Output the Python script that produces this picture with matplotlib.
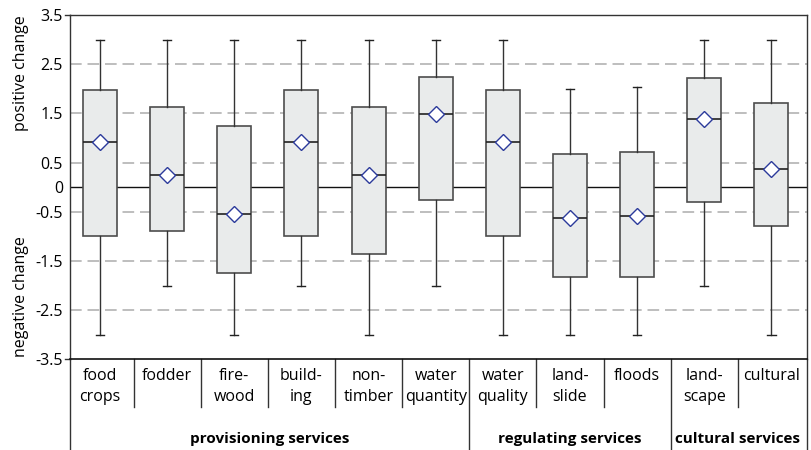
import matplotlib
matplotlib.use("Agg")
import matplotlib.pyplot as plt
from matplotlib.transforms import blended_transform_factory
from matplotlib.lines import Line2D

# ---- data ----
categories = ["food\ncrops", "fodder", "fire-\nwood", "build-\ning", "non-\ntimber",
              "water\nquantity", "water\nquality", "land-\nslide", "floods",
              "land-\nscape", "cultural"]
whisker_low = [-3.0, -2.0, -3.0, -2.0, -3.0, -2.0, -3.0, -3.0, -3.0, -2.0, -3.0]
q1 = [-1.0, -0.89, -1.75, -1.0, -1.36, -0.26, -1.0, -1.83, -1.83, -0.31, -0.80]
median = [0.92, 0.25, -0.55, 0.92, 0.25, 1.49, 0.92, -0.63, -0.58, 1.38, 0.36]
mean = [0.92, 0.25, -0.55, 0.92, 0.25, 1.49, 0.92, -0.63, -0.58, 1.38, 0.36]
q3 = [1.98, 1.62, 1.24, 1.98, 1.62, 2.24, 1.98, 0.67, 0.72, 2.22, 1.71]
whisker_high = [3.0, 3.0, 3.0, 3.0, 3.0, 3.0, 3.0, 2.0, 2.04, 3.0, 3.0]
groups = ["provisioning services", "regulating services", "cultural services"]
group_sizes = [6, 3, 2]
yticks = [-3.5, -2.5, -1.5, -0.5, 0, 0.5, 1.5, 2.5, 3.5]
ytick_labels = ["-3.5", "-2.5", "-1.5", "-0.5", "0", "0.5", "1.5", "2.5", "3.5"]
grid_levels = [-2.5, -1.5, -0.5, 0.5, 1.5, 2.5]

plt.rcParams["font.family"] = ["Open Sans", "DejaVu Sans"]
plt.rcParams["font.size"] = 11

W, H = 811, 450
fig = plt.figure(figsize=(W / 100, H / 100), dpi=100)
ax_l, ax_r, ax_t, ax_b = 70, 807, 15, 359.3
ax = fig.add_axes([ax_l / W, (H - ax_b) / H, (ax_r - ax_l) / W, (ax_b - ax_t) / H])
axh = ax_b - ax_t
axw = ax_r - ax_l

n = len(categories)
ax.set_ylim(-3.5, 3.5)
ax.set_xlim(-0.447, n - 1 + 0.529)

# grid & zero line
for g in grid_levels:
    ax.axhline(g, color="#b3b3b3", lw=1.2, dashes=(7, 3.5), zorder=0.5)
ax.axhline(0, color="#111111", lw=1.0, zorder=1)

stats = []
for i in range(n):
    stats.append(dict(whislo=whisker_low[i], q1=q1[i], med=median[i], q3=q3[i],
                      whishi=whisker_high[i], mean=mean[i], fliers=[]))

ax.bxp(stats, positions=list(range(n)), widths=0.506, patch_artist=True,
       showmeans=True, showfliers=False, capwidths=0.12,
       boxprops=dict(facecolor="#e9ebeb", edgecolor="#4d4d4d", lw=1.2),
       medianprops=dict(color="#222222", lw=1.2),
       whiskerprops=dict(color="#333333", lw=1.0),
       capprops=dict(color="#222222", lw=1.0),
       meanprops=dict(marker="D", markerfacecolor="white", markeredgecolor="#2b3a9b",
                      markersize=8.5, markeredgewidth=1.0),
       zorder=2)

# axes styling
for s in ["top", "right", "left"]:
    ax.spines[s].set_color("#333333")
    ax.spines[s].set_linewidth(1.0)
ax.spines["bottom"].set_color("#111111")
ax.spines["bottom"].set_linewidth(1.2)
ax.set_yticks(yticks)
ax.set_yticklabels(ytick_labels)
ax.tick_params(axis="y", length=0, pad=5, labelsize=11.5)
ax.set_xticks([])

# short ticks at ±3.5
for yv in (0.0, 1.0):
    ax.add_line(Line2D([-5 / axw, 0], [yv, yv], transform=ax.transAxes,
                       color="#333333", lw=1.0, clip_on=False))

# y-axis annotations
ty = blended_transform_factory(ax.transAxes, ax.transData)
ax.text(-0.0665, 2.32, "positive change", rotation=90, ha="center", va="center",
        transform=ty, fontsize=11.5)
ax.text(-0.0665, -2.23, "negative change", rotation=90, ha="center", va="center",
        transform=ty, fontsize=11.5)

# category table below
tx = blended_transform_factory(ax.transData, ax.transAxes)
line_y = [(ax_b - 380) / axh, (ax_b - 400.7) / axh]
for i, lab in enumerate(categories):
    for j, part in enumerate(lab.split("\n")):
        ax.text(i, line_y[j], part, ha="center", va="baseline", transform=tx, fontsize=11.5)

sep_short = (ax_b - 407) / axh
sep_long = (ax_b - 452) / axh
boundaries = []
acc = 0
for s in group_sizes[:-1]:
    acc += s
    boundaries.append(acc - 0.5)
for i in range(n - 1):
    x = i + 0.5
    yb = sep_long if x in boundaries else sep_short
    ax.add_line(Line2D([x, x], [0, yb], transform=tx, color="#333333", lw=1.0, clip_on=False))
for xa in (0.0, 1.0):
    ax.add_line(Line2D([xa, xa], [0, sep_long], transform=ax.transAxes,
                       color="#333333", lw=1.0, clip_on=False))

# group labels
gy = (ax_b - 443.3) / axh
start = -0.5
x0, x1 = ax.get_xlim()
for gname, gs in zip(groups, group_sizes):
    end = start + gs
    a = max(start, x0)
    b = min(end, x1)
    ax.text((a + b) / 2, gy, gname, ha="center", va="baseline", transform=tx,
            fontsize=11, fontweight="bold")
    start = end

fig.savefig("out.png", dpi=100)
